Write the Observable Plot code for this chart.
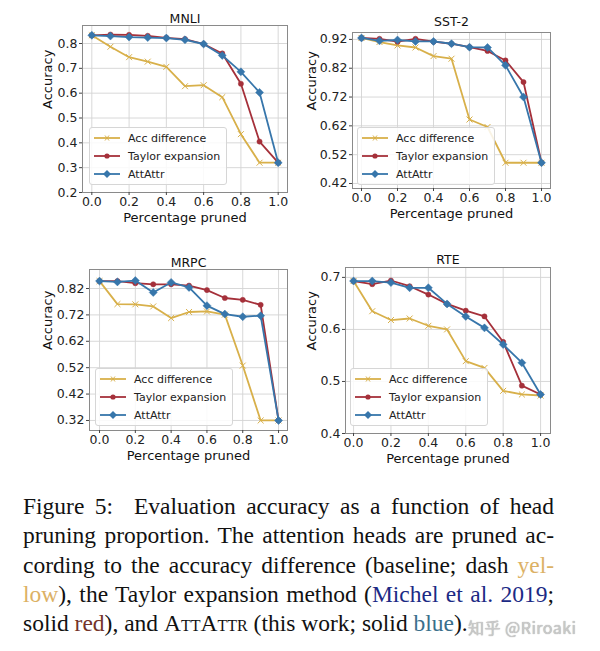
<!DOCTYPE html>
<html><head><meta charset="utf-8">
<script src="https://cdn.jsdelivr.net/npm/d3@7"></script>
<script src="https://cdn.jsdelivr.net/npm/@observablehq/plot@0.6"></script>
<style>
body{margin:0;background:#fff;}
#root{position:relative;width:600px;height:651px;overflow:hidden;background:#fff;}
.panel{position:absolute;}
.legend{position:absolute;background:rgba(255,255,255,0.85);border:1px solid #d6d6d6;border-radius:3px;font-family:"DejaVu Sans";font-size:11px;color:#222;padding:1px 6px 1px 1px;box-sizing:border-box;}
.legend .row{display:flex;align-items:center;height:18px;white-space:nowrap;}
.legend svg{flex:none;margin-right:7px;}
.caption{position:absolute;left:23px;top:492px;width:531px;font-family:"Liberation Serif";font-size:23.5px;line-height:29.3px;color:#111;}
.caption div{text-align:justify;text-align-last:justify;white-space:nowrap;}
.caption div.last{text-align-last:left;}
.sc{font-variant:small-caps;}
.wm{position:absolute;left:468px;top:615px;font-family:"Noto Sans CJK SC";font-size:16px;color:#c9c9c9;text-shadow:0 0 1px #999;letter-spacing:0.5px;}
</style></head>
<body><div id="root"></div>
<script>
// ---- data ----
const pruned = [0.0, 0.1, 0.2, 0.3, 0.4, 0.5, 0.6, 0.7, 0.8, 0.9, 1.0];
const seriesNames = ["Acc difference", "Taylor expansion", "AttAttr"];
const seriesColors = ["#d8b04a", "#a5303a", "#3776ab"];
const xTicks = [0.0, 0.2, 0.4, 0.6, 0.8, 1.0];

const mnliAcc    = [0.833, 0.787, 0.745, 0.727, 0.706, 0.628, 0.632, 0.584, 0.435, 0.320, 0.320];
const mnliTaylor = [0.833, 0.836, 0.835, 0.831, 0.823, 0.818, 0.798, 0.760, 0.638, 0.405, 0.320];
const mnliAtt    = [0.833, 0.830, 0.826, 0.824, 0.822, 0.815, 0.798, 0.752, 0.686, 0.603, 0.320];
const mnliTicks  = [0.2, 0.3, 0.4, 0.5, 0.6, 0.7, 0.8];

const sstAcc    = [0.925, 0.911, 0.899, 0.892, 0.862, 0.853, 0.642, 0.616, 0.492, 0.492, 0.492];
const sstTaylor = [0.925, 0.922, 0.912, 0.922, 0.912, 0.905, 0.893, 0.880, 0.847, 0.772, 0.492];
const sstAtt    = [0.925, 0.915, 0.918, 0.913, 0.913, 0.905, 0.893, 0.892, 0.830, 0.720, 0.492];
const sstTicks  = [0.42, 0.52, 0.62, 0.72, 0.82, 0.92];

const mrpcAcc    = [0.848, 0.761, 0.760, 0.752, 0.708, 0.731, 0.733, 0.721, 0.528, 0.320, 0.320];
const mrpcTaylor = [0.848, 0.848, 0.840, 0.836, 0.836, 0.831, 0.814, 0.784, 0.777, 0.758, 0.320];
const mrpcAtt    = [0.848, 0.845, 0.850, 0.805, 0.843, 0.824, 0.755, 0.723, 0.713, 0.717, 0.320];
const mrpcTicks  = [0.32, 0.42, 0.52, 0.62, 0.72, 0.82];

const rteAcc    = [0.693, 0.635, 0.618, 0.621, 0.607, 0.600, 0.539, 0.526, 0.482, 0.475, 0.473];
const rteTaylor = [0.693, 0.687, 0.694, 0.683, 0.667, 0.649, 0.636, 0.625, 0.576, 0.492, 0.475];
const rteAtt    = [0.693, 0.693, 0.690, 0.680, 0.680, 0.649, 0.625, 0.603, 0.571, 0.536, 0.475];
const rteTicks  = [0.4, 0.5, 0.6, 0.7];

const root = document.getElementById("root");
const symbols = ["times", "circle", "diamond2"];
const symR = [2.8, 2.6, 3.6];

function toRows(vals){ return pruned.map((x,i)=>({x, y: vals[i]})); }

function panel(cfg){
  const sets = [cfg.acc, cfg.taylor, cfg.att].map(toRows);
  const marks = [
    Plot.gridX(xTicks, {stroke:"#d4d4d4", strokeOpacity:1, strokeWidth:0.9}),
    Plot.gridY(cfg.ticks, {stroke:"#d4d4d4", strokeOpacity:1, strokeWidth:0.9}),
    Plot.frame({stroke:"#8a8a8a", strokeWidth:1}),
    Plot.axisX(xTicks, {tickSize:3, tickPadding:2, tickFormat:".1f", label:null, fontSize:12.5, stroke:"#444"}),
    Plot.axisY(cfg.ticks, {tickSize:3, tickPadding:2, tickFormat:cfg.fmt, label:null, fontSize:12.5, stroke:"#444"})
  ];
  sets.forEach((rows,k)=>{
    marks.push(Plot.line(rows, {x:"x", y:"y", stroke:seriesColors[k], strokeWidth:1.8}));
    if (k===0) marks.push(Plot.dot(rows, {x:"x", y:"y", symbol:"times", r:symR[k], stroke:seriesColors[k], strokeWidth:1}));
    else marks.push(Plot.dot(rows, {x:"x", y:"y", symbol:symbols[k], r:symR[k], fill:seriesColors[k], stroke:seriesColors[k], strokeWidth:0.5}));
  });
  marks.push(
    Plot.text([cfg.name], {text:d=>d, frameAnchor:"top", lineAnchor:"middle", dy:cfg.titleDy, fontSize:12.5, fill:"#111"}),
    Plot.text(["Accuracy"], {text:d=>d, frameAnchor:"left", lineAnchor:"middle", rotate:-90, dx:cfg.ylabDx, fontSize:13, fill:"#111"}),
    Plot.text(["Percentage pruned"], {text:d=>d, frameAnchor:"bottom", lineAnchor:"middle", dy:25, fontSize:13, fill:"#111"})
  );
  const p = Plot.plot({
    width:300, height:230,
    marginTop:cfg.m[0], marginRight:cfg.m[1], marginBottom:cfg.m[2], marginLeft:cfg.m[3],
    style:{fontFamily:"DejaVu Sans", fontSize:"12px", color:"#222", background:"transparent", overflow:"visible"},
    x:{domain:cfg.xd},
    y:{domain:cfg.yd},
    marks
  });
  const wrap = document.createElement("div");
  wrap.className = "panel";
  wrap.style.left = cfg.left+"px"; wrap.style.top = cfg.top+"px";
  wrap.appendChild(p);
  root.appendChild(wrap);

  // legend
  const lg = document.createElement("div");
  lg.className = "legend";
  lg.style.left = cfg.lg[0]+"px"; lg.style.top = cfg.lg[1]+"px";
  seriesNames.forEach((n,k)=>{
    const row = document.createElement("div"); row.className="row";
    const c = seriesColors[k];
    let mk;
    if (k===0) mk = `<path d="M14 6.5 L18 11.5 M18 6.5 L14 11.5" stroke="${c}" stroke-width="1"/>`;
    else if (k===1) mk = `<circle cx="16" cy="9" r="2.6" fill="${c}"/>`;
    else mk = `<path d="M16 5 L20 9 L16 13 L12 9 Z" fill="${c}"/>`;
    row.innerHTML = `<svg width="30" height="18"><line x1="3" y1="9" x2="29" y2="9" stroke="${c}" stroke-width="1.8"/>${mk}</svg><span>${n}</span>`;
    lg.appendChild(row);
  });
  root.appendChild(lg);
}

panel({name:"MNLI", acc:mnliAcc, taylor:mnliTaylor, att:mnliAtt, ticks:mnliTicks, fmt:".1f",
  left:0, top:0, m:[25,13,38,82], xd:[-0.05,1.05], yd:[0.2,0.8725], titleDy:-7, ylabDx:-35, lg:[89,127]});
panel({name:"SST-2", acc:sstAcc, taylor:sstTaylor, att:sstAtt, ticks:sstTicks, fmt:".2f",
  left:300, top:0, m:[32,50,42,52], xd:[-0.05,1.05], yd:[0.4026,0.944], titleDy:-11, ylabDx:-41, lg:[357,127]});
panel({name:"MRPC", acc:mrpcAcc, taylor:mrpcTaylor, att:mrpcAtt, ticks:mrpcTicks, fmt:".2f",
  left:0, top:240, m:[29,13,40,89], xd:[-0.056,1.05], yd:[0.282,0.892], titleDy:-7, ylabDx:-42, lg:[95,368]});
panel({name:"RTE", acc:rteAcc, taylor:rteTaylor, att:rteAtt, ticks:rteTicks, fmt:".1f",
  left:300, top:240, m:[27,50,37,45], xd:[-0.043,1.053], yd:[0.4,0.719], titleDy:-8, ylabDx:-34, lg:[350,368]});

// caption
const cap = document.createElement("div");
cap.className = "caption";
cap.innerHTML = `
<div>Figure 5:&nbsp; Evaluation accuracy as a function of head</div>
<div>pruning proportion. The attention heads are pruned ac-</div>
<div>cording to the accuracy difference (baseline; dash <span style="color:#dcb165">yel-</span></div>
<div><span style="color:#dcb165">low</span>), the Taylor expansion method (<span style="color:#1c2a85">Michel et al. 2019</span>;</div>
<div class="last">solid <span style="color:#74342a">red</span>), and <span class="sc">AttAttr</span> (this work; solid <span style="color:#3a6f8c">blue</span>).</div>`;
root.appendChild(cap);
const wm = document.createElement("div");
wm.className = "wm";
wm.textContent = "知乎 @Riroaki";
root.appendChild(wm);
</script>
</body></html>
